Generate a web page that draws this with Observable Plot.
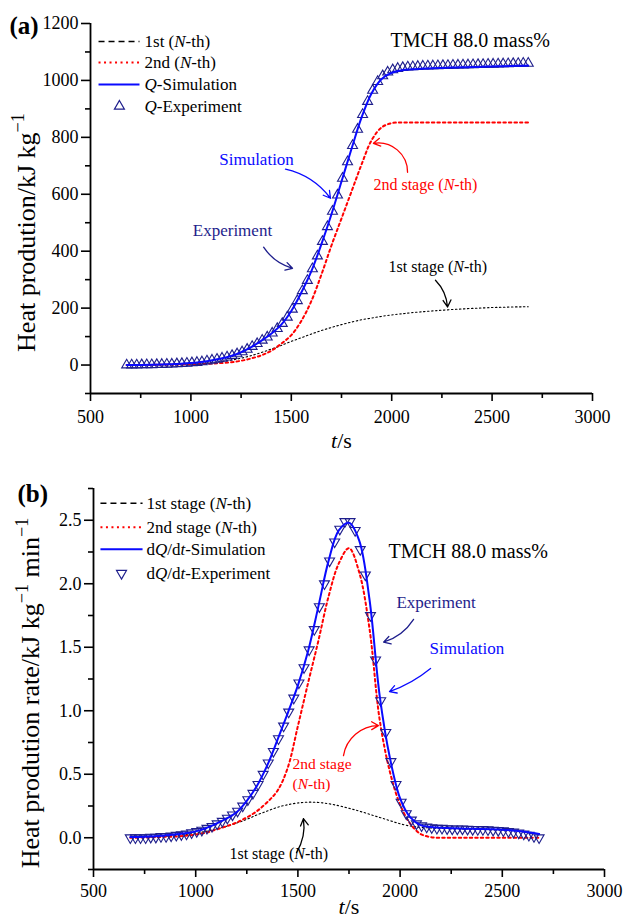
<!DOCTYPE html>
<html><head><meta charset="utf-8">
<script src="https://cdn.jsdelivr.net/npm/d3@7"></script>
<script src="https://cdn.jsdelivr.net/npm/@observablehq/plot@0.6"></script>
<style>
body{margin:0;background:#fff;}
#wrap{width:627px;height:920px;overflow:hidden;background:#fff;}
svg{display:block;}
</style></head><body><div id="wrap"></div>
<script>
// ---------- data ----------
// time grid of the simulated curves (s)
const tLine = [680,700,750,800,850,900,950,1000,1050,1100,1150,1200,1250,1300,1350,1400,1450,1500,1550,1600,1650,1700,1750,1800,1850,1900,1950,2000,2050,2100,2150,2200,2250,2300,2350,2400,2450,2500,2550,2600,2650,2680];
// panel (a): heat production, kJ/kg
const qSim = [0,0,0.5,1,2,3,4.5,7,11,16,23,32,45,63,85,110,142,190,255,330,425,530,645,760,870,955,1005,1027,1036,1039,1041,1043,1044,1045,1046,1047,1048,1049,1050,1051,1051.5,1052];
const q1st = [0,0.2,0.5,1,1.5,2,3,4,6,8.5,12,17,24,33,44,56,69,83,96,109,121,132,142,151,159,165,171,176,180,184,187,190,192.5,195,197,199,200.5,202,203,204,204.5,205];
const q2nd = [0,0,0.2,0.5,0.8,1.2,1.8,2.5,3.5,5,7,10,15,23,34,50,75,105,155,225,318,420,515,610,705,790,835,850,852,852,852,852,852,852,852,852,852,852,852,852,852,852];
// panel (b): heat production rate
const rSim = [0.005,0.006,0.008,0.012,0.018,0.025,0.035,0.05,0.075,0.11,0.15,0.2,0.29,0.41,0.57,0.77,0.98,1.2,1.47,1.82,2.18,2.42,2.48,2.34,1.88,1.12,0.63,0.31,0.16,0.1,0.085,0.078,0.075,0.072,0.07,0.068,0.066,0.063,0.058,0.05,0.038,0.03];
const r1st = [0.002,0.003,0.005,0.008,0.012,0.018,0.026,0.036,0.05,0.068,0.09,0.115,0.145,0.18,0.21,0.24,0.26,0.274,0.28,0.278,0.268,0.252,0.232,0.21,0.185,0.16,0.135,0.11,0.092,0.082,0.077,0.074,0.072,0.07,0.068,0.066,0.064,0.061,0.056,0.048,0.036,0.028];
const r2nd = [0,0,0.002,0.004,0.007,0.01,0.015,0.025,0.04,0.065,0.09,0.12,0.16,0.21,0.28,0.37,0.55,0.88,1.22,1.55,1.9,2.16,2.28,2.09,1.65,0.93,0.52,0.26,0.11,0.03,0.005,0,0,0,0,0,0,0,0,0,0,0];
// experimental points
const tExp = [680,705,730,755,780,805,830,855,880,905,930,955,980,1005,1030,1055,1080,1105,1130,1155,1180,1205,1230,1255,1280,1305,1330,1355,1380,1405,1430,1455,1480,1505,1530,1555,1580,1605,1630,1655,1680,1705,1730,1755,1780,1805,1830,1855,1880,1905,1930,1955,1980,2005,2030,2055,2080,2105,2130,2155,2180,2205,2230,2255,2280,2305,2330,2355,2380,2405,2430,2455,2480,2505,2530,2555,2580,2605,2630,2655,2680];
const qExp = [0,0,0,0.5,1,1,1.5,2,2.5,3, 4,5,6,7.5,9,11,14,17,20,24, 28,33,39,46,55,65,75,87,98,112, 128,146,168,196,226,261,297,338,383,434, 486,540,597,656,714,771,828,880,926,965, 996,1016,1029,1037,1042,1045,1047,1048,1049,1050, 1050.5,1051,1051.5,1052,1052.5,1053,1053.5,1054,1054.5,1055, 1055.5,1056,1056.5,1057,1057.5,1058,1058.5,1059,1059.5,1060, 1060];
const rExp = [0,0,0,0,0.005,0.005,0.01,0.01,0.015,0.02, 0.025,0.03,0.04,0.05,0.06,0.075,0.09,0.11,0.13,0.155, 0.18,0.21,0.25,0.3,0.35,0.42,0.5,0.59,0.68,0.78, 0.88,0.99,1.1,1.22,1.34,1.48,1.64,1.82,2.0,2.18, 2.33,2.43,2.49,2.49,2.42,2.27,2.07,1.75,1.40,1.08, 0.83,0.6,0.42,0.28,0.19,0.14,0.11,0.095,0.085,0.08, 0.075,0.075,0.072,0.07,0.07,0.07,0.068,0.066,0.065,0.065, 0.063,0.06,0.058,0.055,0.05,0.045,0.038,0.03,0.02,0.01, 0.0];
// ticks
const xMajor = [500,1000,1500,2000,2500,3000];
const xMinor = [750,1250,1750,2250,2750];
const yMajorA = [0,200,400,600,800,1000,1200];
const yMinorA = [-100,100,300,500,700,900,1100];
const yMajorB = [0,0.5,1,1.5,2,2.5];
const yMinorB = [-0.25,0.25,0.75,1.25,1.75,2.25,2.75];
// legend labels
const legendA = ["1st (_N_-th)", "2nd (_N_-th)", "_Q_-Simulation", "_Q_-Experiment"];
const legendB = ["1st stage (_N_-th)", "2nd stage (_N_-th)", "d_Q_/d_t_-Simulation", "d_Q_/d_t_-Experiment"];

// ---------- styles ----------
const BLUE = "#0a0aff", NAVY = "#1e1e8c", RED = "#ff0000", BLACK = "#000";
const FONT = "'Liberation Serif', 'Times New Roman', serif";

const linesA = tLine.map((t, i) => ({t, s: qSim[i], a: q1st[i], b: q2nd[i]}));
const linesB = tLine.map((t, i) => ({t, s: rSim[i], a: r1st[i], b: r2nd[i]}));
const expA = tExp.map((t, i) => ({t, v: qExp[i]}));
const expB = tExp.map((t, i) => ({t, v: rExp[i]}));

const triDown = {draw(ctx, size) {
  const y = -Math.sqrt(size / (Math.sqrt(3) * 3));
  ctx.moveTo(0, -y * 2); ctx.lineTo(-Math.sqrt(3) * y, y); ctx.lineTo(Math.sqrt(3) * y, y); ctx.closePath();
}};

function axes(yMajor, yMinor, yFmt, xPad) {
  return [
    Plot.axisX({ticks: xMajor, tickSize: 8, tickPadding: xPad, tickFormat: d => String(d), strokeWidth: 1.6, label: null}),
    Plot.axisX({ticks: xMinor, tickSize: 5, tickFormat: () => "", strokeWidth: 1.6, label: null}),
    Plot.axisY({ticks: yMajor, tickSize: 9, tickPadding: 3, tickFormat: yFmt, strokeWidth: 1.6, label: null}),
    Plot.axisY({ticks: yMinor, tickSize: 5, tickFormat: () => "", strokeWidth: 1.6, label: null}),
    Plot.ruleX([500], {strokeWidth: 1.8}),
    Plot.ruleY([yMinor[0]], {strokeWidth: 1.8})
  ];
}

function legend(labels, x1, x2, xs, xt, ys, symbol) {
  return [
    Plot.link([{a: x1, b: x2, y: ys[0]}], {x1: "a", x2: "b", y1: "y", y2: "y", stroke: BLACK, strokeWidth: 1.6, strokeDasharray: "6,4"}),
    Plot.link([{a: x1, b: x2, y: ys[1]}], {x1: "a", x2: "b", y1: "y", y2: "y", stroke: RED, strokeWidth: 2, strokeDasharray: "2,3.5"}),
    Plot.link([{a: x1, b: x2, y: ys[2]}], {x1: "a", x2: "b", y1: "y", y2: "y", stroke: BLUE, strokeWidth: 2}),
    Plot.dot([{t: xs, v: ys[3]}], {x: "t", y: "v", symbol, r: 3.7, stroke: NAVY, strokeWidth: 1.2, fill: "none"}),
    Plot.text(labels.map((l, i) => ({l, t: xt, v: ys[i]})), {x: "t", y: "v", text: "l", textAnchor: "start", lineAnchor: "middle", fontSize: 17, fill: BLACK})
  ];
}

function note(t, v, text, color, size, anchor = "start") {
  return Plot.text([{t, v, text}], {x: "t", y: "v", text: "text", fill: color, fontSize: size, textAnchor: anchor, lineAnchor: "middle"});
}
function arrow(t1, v1, t2, v2, color, bend) {
  return Plot.arrow([{t1, v1, t2, v2}], {x1: "t1", y1: "v1", x2: "t2", y2: "v2", stroke: color, strokeWidth: 1.3, bend, headLength: 9});
}

function rich(svg) {
  d3.select(svg).selectAll("text").each(function() {
    const s = this.textContent;
    if (!/[_^]/.test(s)) return;
    let base = 18;
    let n = this;
    while (n && n.getAttribute) { const f = n.getAttribute("font-size"); if (f) { base = parseFloat(f); break; } n = n.parentNode; }
    this.textContent = "";
    this.setAttribute("style", "white-space:pre");
    const parts = s.split(/(_[^_]*_|\^[^^]*\^)/).filter(p => p);
    let raised = false;
    for (const p of parts) {
      const ts = d3.select(this).append("tspan");
      if (p[0] === "^") {
        ts.text(p.slice(1, -1)).attr("font-size", base * 0.7).attr("dy", -0.42 * base);
        raised = true;
      } else {
        if (p[0] === "_") ts.text(p.slice(1, -1)).attr("font-style", "italic");
        else ts.text(p);
        if (raised) { ts.attr("dy", 0.42 * base); raised = false; }
      }
    }
  });
}

const style = {fontFamily: FONT, fontSize: "18px", background: "white", color: "black", overflow: "visible"};

// ---------- panel (a) ----------
const chartA = Plot.plot({
  width: 627, height: 450,
  marginLeft: 90, marginRight: 35, marginTop: 23, marginBottom: 57,
  x: {domain: [500, 3000]},
  y: {domain: [-100, 1200]},
  style,
  marks: [
    ...axes(yMajorA, yMinorA, d => String(d), 9),
    Plot.line(linesA, {x: "t", y: "a", stroke: BLACK, strokeWidth: 1.1, strokeDasharray: "1.5,2.5", curve: "catmull-rom"}),
    Plot.line(linesA, {x: "t", y: "b", stroke: RED, strokeWidth: 2, strokeDasharray: "2.5,3", curve: "catmull-rom"}),
    Plot.dot(expA, {x: "t", y: "v", symbol: "triangle", r: 3.7, stroke: NAVY, strokeWidth: 1.1, fill: "none"}),
    Plot.line(linesA, {x: "t", y: "s", stroke: BLUE, strokeWidth: 2, curve: "catmull-rom"}),
    ...legend(legendA, 540, 744, 644, 769, [1137, 1063, 986, 909], "triangle"),
    note(1994, 1140, "TMCH 88.0 mass%", BLACK, 20),
    note(1327, 723, "Simulation", BLUE, 17, "middle"),
    note(1207, 474, "Experiment", NAVY, 17, "middle"),
    note(1909, 632, "2nd stage (_N_-th)", RED, 16),
    note(1984, 344, "1st stage (_N_-th)", BLACK, 16),
    arrow(1471, 688, 1695, 586, BLUE, 20),
    arrow(1362, 414, 1506, 340, NAVY, -20),
    arrow(2079, 677, 1909, 779, RED, -50),
    arrow(2218, 298, 2278, 204, BLACK, 20),
    Plot.text(["(a)"], {frameAnchor: "top-left", dx: -81, dy: 2, textAnchor: "start", lineAnchor: "middle", fontWeight: "bold", fontSize: 25}),
    Plot.text(["Heat prodution/kJ kg^−1^"], {frameAnchor: "left", rotate: -90, dx: -64, dy: 24, textAnchor: "middle", lineAnchor: "middle", fontSize: 26}),
    Plot.text(["_t_/s"], {frameAnchor: "bottom", dy: 47, lineAnchor: "middle", fontSize: 22})
  ]
});

// ---------- panel (b) ----------
const chartB = Plot.plot({
  width: 627, height: 470,
  marginLeft: 93, marginRight: 23, marginTop: 38, marginBottom: 51,
  x: {domain: [500, 3000]},
  y: {domain: [-0.25, 2.75]},
  style,
  marks: [
    ...axes(yMajorB, yMinorB, d3.format(".1f"), 7),
    Plot.line(linesB, {x: "t", y: "a", stroke: BLACK, strokeWidth: 1.1, strokeDasharray: "1.5,2.5", curve: "catmull-rom"}),
    Plot.line(linesB, {x: "t", y: "b", stroke: RED, strokeWidth: 2, strokeDasharray: "2.5,3", curve: "catmull-rom"}),
    Plot.dot(expB, {x: "t", y: "v", symbol: triDown, r: 3.7, stroke: NAVY, strokeWidth: 1.1, fill: "none"}),
    Plot.line(linesB, {x: "t", y: "s", stroke: BLUE, strokeWidth: 2, curve: "catmull-rom"}),
    ...legend(legendB, 534, 740, 637, 759, [2.634, 2.445, 2.271, 2.082], triDown),
    note(1943, 2.255, "TMCH 88.0 mass%", BLACK, 20),
    note(1982, 1.853, "Experiment", NAVY, 17),
    note(2144, 1.49, "Simulation", BLUE, 17),
    note(1474, 0.584, "2nd stage", RED, 15.5),
    note(1474, 0.426, "(_N_-th)", RED, 15.5),
    note(1165, -0.126, "1st stage (_N_-th)", BLACK, 16),
    arrow(2066, 1.72, 1919, 1.54, NAVY, 20),
    arrow(2149, 1.333, 1948, 1.151, BLUE, 10),
    arrow(1723, 0.647, 1894, 0.883, RED, 40),
    arrow(1493, -0.118, 1527, 0.15, BLACK, -20),
    Plot.text(["(b)"], {frameAnchor: "top-left", dx: -76, dy: 5, textAnchor: "start", lineAnchor: "middle", fontWeight: "bold", fontSize: 25}),
    Plot.text(["Heat prodution rate/kJ kg^−1^ min^−1^"], {frameAnchor: "left", rotate: -90, dx: -63, dy: 14, textAnchor: "middle", lineAnchor: "middle", fontSize: 26}),
    Plot.text(["_t_/s"], {frameAnchor: "bottom", dy: 37, lineAnchor: "middle", fontSize: 22})
  ]
});

const wrap = document.getElementById("wrap");
wrap.appendChild(chartA);
wrap.appendChild(chartB);
rich(chartA);
rich(chartB);
</script></body></html>
